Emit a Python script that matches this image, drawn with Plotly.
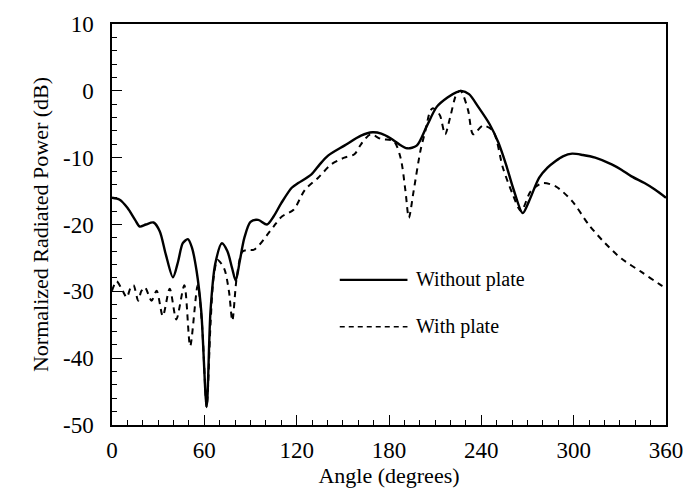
import plotly.graph_objects as go

# Radiation pattern, without plate (solid)
ang_without = [0, 5, 10, 15, 18, 22, 27, 31, 35, 39.6, 43, 46, 49.3, 52, 55, 58, 61.5,
               64, 67, 71.4, 75, 78, 80.4, 83, 86, 90, 95, 100.7, 105, 110, 116.8, 121,
               129.6, 135, 140.4, 151, 161.8, 169.3, 175, 181, 186, 191.8, 198, 204.7,
               211, 218, 224, 227, 232, 238, 245.4, 251, 256, 261, 266.9, 271, 277.6,
               283, 288.3, 293, 299, 306, 314, 324.7, 331, 337.6, 346, 353, 360]
pow_without = [-16, -16.3, -17.5, -19.3, -20.3, -20.0, -19.7, -21, -24.5, -27.9, -25.5,
               -22.8, -22.2, -23.5, -27, -33, -47.3, -33, -26, -22.8, -24, -26.5, -28.4,
               -25.5, -22, -19.6, -19.3, -20, -18.8, -16.8, -14.5, -13.8, -12.5, -11,
               -9.7, -8.2, -6.7, -6.2, -6.4, -7.1, -7.9, -8.6, -8.2, -5.2, -2.4, -1.0,
               -0.2, 0, -0.5, -2.4, -5, -7.7, -11, -14.8, -18.3, -16.5, -13, -11.5,
               -10.5, -9.8, -9.4, -9.6, -10, -11, -11.8, -12.8, -13.8, -14.8, -16]

# Radiation pattern, with plate (dashed)
ang_with = [0, 3, 6, 9.6, 12, 14, 17, 19, 21.4, 25.7, 29, 33, 37.5, 41.8, 47, 50.8,
            55.7, 58.5, 61.5, 64, 66, 68.6, 72.9, 76, 78.2, 81, 84.6, 88, 92, 96, 100.7,
            105, 110.4, 118, 125.4, 134, 142.5, 151, 157.5, 161.8, 168, 174.7, 183,
            187.5, 190.7, 192.9, 196, 200.4, 203.6, 206.8, 208.5, 211, 213.2, 216.5,
            219.7, 224, 226.5, 228.3, 231.5, 234.7, 241, 247.6, 254, 260.4, 265.8,
            272.2, 279.7, 288.3, 299, 309.7, 320.4, 331, 344, 356.9, 360]
pow_with = [-29.9, -28.5, -29.5, -30.9, -29.5, -29.1, -31.4, -30, -29.4, -31.4, -29.9,
            -33.7, -29.6, -34.2, -29.1, -38.2, -29.1, -35, -47.3, -35, -28, -25.3,
            -26.6, -30, -34.4, -28, -24.1, -23.8, -23.8, -23, -21.6, -20.3, -18.8,
            -17.8, -14.8, -13, -11, -10, -9.5, -8, -6.5, -7.2, -7.5, -10, -15, -19,
            -15, -9, -6, -3, -2.6, -3, -3.7, -6.5, -4, -0.4, 0, -0.7, -3, -6.5, -5.2,
            -6, -11.5, -15.5, -18, -15, -13.8, -14.3, -16.5, -20, -22.8, -25.1, -27.1,
            -29.1, -29.5]

x_ticks = [0, 60, 120, 180, 240, 300, 360]
y_ticks = [10, 0, -10, -20, -30, -40, -50]

FONT = "Liberation Serif"
INK = "black"

fig = go.Figure()
fig.add_trace(go.Scatter(x=ang_without, y=pow_without, mode="lines",
                         line=dict(color=INK, width=2.4, shape="spline", smoothing=0.8),
                         name="Without plate", showlegend=False))
fig.add_trace(go.Scatter(x=ang_with, y=pow_with, mode="lines",
                         line=dict(color=INK, width=2, dash="6px,5px", shape="spline",
                                   smoothing=0.8),
                         name="With plate", showlegend=False))

# Key: line samples with labels, placed inside the axes
key_items = [("Without plate", "solid", 2.2, -28.3), ("With plate", "5px,4px", 1.5, -35.3)]
for label, dash, lw, yv in key_items:
    fig.add_shape(type="line", xref="x", yref="y", x0=148, x1=192, y0=yv, y1=yv,
                  line=dict(color=INK, width=lw, dash=dash))
    fig.add_annotation(text=label, xref="x", yref="y", x=196, y=yv,
                       xanchor="left", yanchor="middle", showarrow=False,
                       font=dict(family=FONT, size=20, color=INK))

axis_common = dict(showline=True, linecolor=INK, linewidth=1.5, mirror=True,
                   ticks="inside", tickcolor=INK, tickwidth=1.2, ticklen=10,
                   showgrid=False, zeroline=False,
                   tickfont=dict(family=FONT, size=23, color=INK))

fig.update_xaxes(range=[0, 360], tickvals=x_ticks, ticktext=[str(v) for v in x_ticks],
                 minor=dict(dtick=10, ticks="inside", ticklen=5, tickcolor=INK, tickwidth=1),
                 ticklabelstandoff=4,
                 title=dict(text="Angle (degrees)", font=dict(family=FONT, size=22, color=INK),
                            standoff=0),
                 **axis_common)
fig.update_yaxes(range=[-50, 10], tickvals=y_ticks, ticktext=[str(v) for v in y_ticks],
                 minor=dict(dtick=2, ticks="inside", ticklen=5, tickcolor=INK, tickwidth=1),
                 ticklabelstandoff=12,
                 title=dict(text="Normalized Radiated Power (dB)",
                            font=dict(family=FONT, size=22, color=INK), standoff=8),
                 **axis_common)

fig.update_layout(width=695, height=491, plot_bgcolor="white", paper_bgcolor="white",
                  margin=dict(l=112, r=25, t=20, b=60))

fig.write_html("out.html")
